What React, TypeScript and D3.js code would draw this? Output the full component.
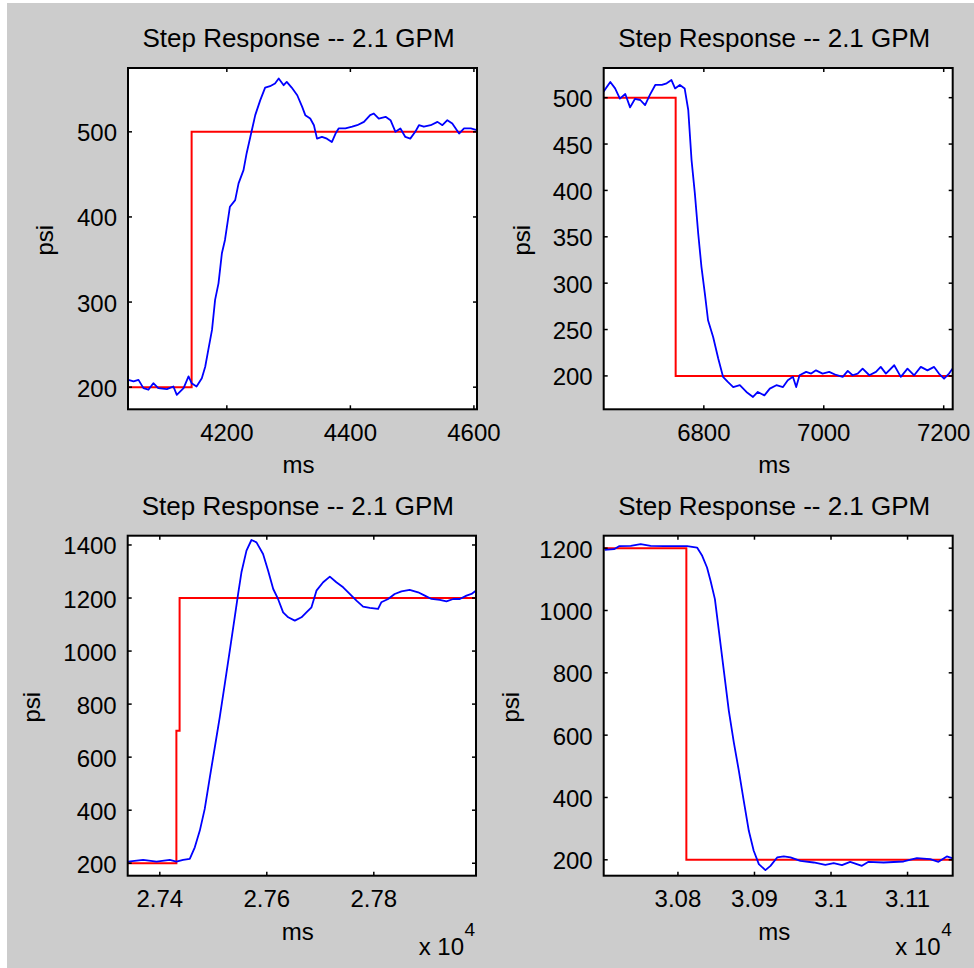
import React from "react";
import * as d3 from "d3";

// ---------- Data ----------
// Panel 1: step 200 -> 500 psi
const p1Time = [4040.5, 4049, 4057, 4065, 4073, 4081, 4089, 4103, 4113.5, 4119, 4130, 4138, 4143, 4151, 4159.5, 4165, 4170, 4176, 4181, 4186.5, 4192, 4197, 4205, 4213.5, 4219, 4227, 4232, 4238, 4246, 4254, 4262, 4270, 4278, 4284, 4292, 4297, 4305, 4314, 4322, 4327, 4335, 4341, 4346, 4354, 4362, 4370, 4376, 4381, 4392, 4403, 4411, 4422, 4432, 4438, 4446, 4457, 4465, 4473, 4481, 4489, 4497, 4505, 4511, 4519, 4530, 4541, 4549, 4557, 4565, 4576, 4584, 4595, 4605];
const p1Psi = [208.6, 206.7, 208.6, 198.9, 197, 204.7, 198.9, 197.7, 200.8, 191, 198.9, 212.6, 204.7, 200.8, 210.6, 224, 243.8, 267.3, 302.5, 322, 357.3, 373, 412, 419.8, 439.4, 455, 474.6, 494, 519.6, 537, 552, 553.6, 556.7, 562.6, 554.8, 558.7, 552, 543, 529.3, 519.6, 515.6, 507.8, 492, 494, 492, 488, 498, 504, 504, 506, 507.8, 511.7, 519.6, 521.5, 515.6, 517.6, 513.7, 500, 504, 494, 492, 500, 507.8, 506, 507.8, 511.7, 507.8, 513.7, 509.8, 498, 504, 504, 502];
const p1StepTime = [4030, 4143, 4143, 4620];
const p1StepPsi = [200, 200, 500, 500];

// Panel 2: step 500 -> 200 psi
const p2Time = [6632.7, 6644, 6652, 6660, 6669, 6677, 6685, 6694, 6702, 6710, 6719, 6730, 6738, 6746, 6752, 6760, 6768, 6774, 6779.5, 6785, 6790.6, 6796, 6801.7, 6807, 6815.5, 6824, 6832, 6840, 6849, 6860, 6871, 6882, 6890, 6901, 6910, 6921, 6932, 6940, 6948.5, 6954, 6959.6, 6970.6, 6979, 6987, 6998, 7009, 7020.5, 7031.6, 7040, 7048, 7056.5, 7064.8, 7076, 7087, 7095, 7103.6, 7117.5, 7128.5, 7139.6, 7150.7, 7161.8, 7172.9, 7184, 7192, 7200.6, 7208.9, 7215];
const p2Psi = [506.5, 517, 510, 499, 504, 489.6, 498.6, 497.5, 492, 503, 513.7, 513.7, 515.5, 519, 510, 513.7, 510, 486.7, 432.7, 396.8, 353.6, 317.6, 288.8, 260, 242, 218.7, 199, 193.5, 188, 190, 182.7, 177.3, 182.7, 179, 186.3, 190, 188, 195.3, 199, 188, 200.7, 204.3, 202.5, 206, 202.5, 204.3, 201, 199, 205.4, 200.7, 202.5, 207.9, 200.7, 204.3, 209.7, 202.5, 211.5, 199, 207.9, 200.7, 209.7, 206, 209.7, 202.5, 197, 202.5, 208];
const p2StepTime = [6620, 6753, 6753, 7230];
const p2StepPsi = [500, 500, 200, 200];

// Panel 3: step 200 -> 1200 psi
const p3Time = [27340.8, 27368.8, 27393.8, 27418.7, 27431, 27443.6, 27456, 27465.4, 27474.8, 27484, 27493.5, 27502.8, 27512, 27521.5, 27530.8, 27540, 27546.4, 27552.6, 27562, 27571.3, 27580.7, 27593, 27602.5, 27612, 27621, 27630.5, 27640, 27652.3, 27664.8, 27674, 27683.5, 27692.8, 27705.3, 27717.8, 27730, 27742.7, 27755, 27767.6, 27780, 27792.5, 27808, 27814, 27826.8, 27839, 27851.7, 27867, 27882.8, 27895.3, 27907.8, 27923.4, 27935.8, 27948.3, 27960.7, 27973.2, 27982.6, 27990.7];
const p3Psi = [206.2, 212.5, 206.2, 212.5, 206.2, 212.5, 216.3, 260, 323, 404.8, 524, 637.3, 750.3, 876, 1001.7, 1127.3, 1215.3, 1297, 1378.6, 1418.8, 1410, 1366, 1303, 1234, 1196.4, 1146, 1127.3, 1114.8, 1127.3, 1146, 1165, 1227.8, 1259.3, 1280.6, 1259.3, 1240.4, 1215.3, 1190, 1167.5, 1162.5, 1158.7, 1183.9, 1196.4, 1215.3, 1225.3, 1230.4, 1221.6, 1209, 1196.4, 1192.7, 1187.6, 1196.4, 1196.4, 1209, 1215.3, 1227.8];
const p3StepTime = [27320, 27431, 27431, 27437, 27437, 28010];
const p3StepPsi = [200, 200, 700, 700, 1200, 1200];

// Panel 4: step 1200 -> 200 psi
const p4Time = [30704.3, 30716.5, 30723, 30738.3, 30751.3, 30764.3, 30781.7, 30799, 30812, 30825, 30831.7, 30838, 30842.6, 30848.3, 30853.5, 30860, 30866.5, 30873, 30879.6, 30886, 30892.6, 30899, 30905.7, 30914.3, 30920.9, 30929.6, 30938.3, 30947, 30960, 30977.4, 30992.6, 31003.5, 31014.3, 31025, 31040.4, 31049, 31068.7, 31094.8, 31112.2, 31129.6, 31140.4, 31151.3, 31159];
const p4Psi = [1194.7, 1196.8, 1206.4, 1207.5, 1212.8, 1207.5, 1206.4, 1206.4, 1206.4, 1202, 1175.4, 1138, 1095.2, 1036.4, 934.8, 806.4, 678, 576.5, 485.6, 389.3, 293, 228.9, 186, 166.8, 180.7, 207.5, 210.7, 207.5, 196.8, 191.4, 183.9, 189.3, 182.8, 193.5, 180.7, 193.5, 191.4, 194.6, 205.3, 202, 193.5, 210.7, 204.3];
const p4StepTime = [30690, 30811, 30811, 31170];
const p4StepPsi = [1200, 1200, 200, 200];

// Axis limits and ticks
const p1XLim = [4040, 4605];
const p1YLim = [174, 575];
const p1XTicks = [4200, 4400, 4600];
const p1YTicks = [200, 300, 400, 500];

const p2XLim = [6633, 7215];
const p2YLim = [164, 532];
const p2XTicks = [6800, 7000, 7200];
const p2YTicks = [200, 250, 300, 350, 400, 450, 500];

const p3XLim = [27340, 27991];
const p3YLim = [153, 1435];
const p3XTicks = [27400, 27600, 27800];
const p3XTickLabels = ["2.74", "2.76", "2.78"];
const p3YTicks = [200, 400, 600, 800, 1000, 1200, 1400];

const p4XLim = [30703, 31159];
const p4YLim = [149, 1240];
const p4XTicks = [30800, 30900, 31000, 31100];
const p4XTickLabels = ["3.08", "3.09", "3.1", "3.11"];
const p4YTicks = [200, 400, 600, 800, 1000, 1200];

const TITLE = "Step Response -- 2.1 GPM";
const X_LABEL = "ms";
const Y_LABEL = "psi";

const FONT = "'Liberation Sans', Arial, Helvetica, sans-serif";

type Box = { l: number; t: number; r: number; b: number };

function Panel(props: {
  id: string;
  box: Box;
  xLim: number[];
  yLim: number[];
  xTicks: number[];
  xTickLabels?: string[];
  yTicks: number[];
  time: number[];
  psi: number[];
  stepTime: number[];
  stepPsi: number[];
  yLabelOffset: number;
  exponent?: boolean;
}) {
  const { id, box, xLim, yLim, xTicks, xTickLabels, yTicks, time, psi, stepTime, stepPsi, yLabelOffset, exponent } = props;
  const x = d3.scaleLinear().domain(xLim).range([box.l, box.r]);
  const y = d3.scaleLinear().domain(yLim).range([box.b, box.t]);
  const line = d3
    .line<[number, number]>()
    .x((d) => x(d[0]))
    .y((d) => y(d[1]));
  const resp = line(time.map((t, i) => [t, psi[i]] as [number, number])) || "";
  const step = line(stepTime.map((t, i) => [t, stepPsi[i]] as [number, number])) || "";
  const cx = (box.l + box.r) / 2 - 4;
  const cy = (box.t + box.b) / 2 + 1.5;
  const tl = 4;
  return (
    <g>
      <defs>
        <clipPath id={id}>
          <rect x={box.l} y={box.t} width={box.r - box.l} height={box.b - box.t} />
        </clipPath>
      </defs>
      <rect x={box.l} y={box.t} width={box.r - box.l} height={box.b - box.t} fill="#ffffff" />
      <g clipPath={`url(#${id})`}>
        <path d={step} fill="none" stroke="#ff0000" strokeWidth={2} />
        <path d={resp} fill="none" stroke="#0000ff" strokeWidth={1.8} strokeLinejoin="round" />
      </g>
      {/* ticks */}
      {xTicks.map((v) => (
        <g key={"xt" + v}>
          <line x1={x(v)} x2={x(v)} y1={box.b} y2={box.b - tl} stroke="#000" strokeWidth={1.5} />
          <line x1={x(v)} x2={x(v)} y1={box.t} y2={box.t + tl} stroke="#000" strokeWidth={1.5} />
        </g>
      ))}
      {yTicks.map((v) => (
        <g key={"yt" + v}>
          <line x1={box.l} x2={box.l + tl} y1={y(v)} y2={y(v)} stroke="#000" strokeWidth={1.5} />
          <line x1={box.r} x2={box.r - tl} y1={y(v)} y2={y(v)} stroke="#000" strokeWidth={1.5} />
        </g>
      ))}
      <rect x={box.l} y={box.t} width={box.r - box.l} height={box.b - box.t} fill="none" stroke="#000" strokeWidth={2} />
      {/* tick labels */}
      {xTicks.map((v, i) => (
        <text key={"xl" + v} x={x(v)} y={box.b + 31.5} textAnchor="middle" fontSize={24} fontFamily={FONT} fill="#000">
          {xTickLabels ? xTickLabels[i] : String(v)}
        </text>
      ))}
      {yTicks.map((v) => (
        <text key={"yl" + v} x={box.l - 11} y={y(v) + 9.5} textAnchor="end" fontSize={24} fontFamily={FONT} fill="#000">
          {String(v)}
        </text>
      ))}
      <text x={cx} y={box.t - 21} textAnchor="middle" fontSize={26} fontFamily={FONT} fill="#000">
        {TITLE}
      </text>
      <text x={cx} y={box.b + 64} textAnchor="middle" fontSize={24} fontFamily={FONT} fill="#000">
        {X_LABEL}
      </text>
      <text
        x={0}
        y={0}
        transform={`translate(${box.l - yLabelOffset},${cy}) rotate(-90)`}
        textAnchor="middle"
        fontSize={24}
        fontFamily={FONT}
        fill="#000"
      >
        {Y_LABEL}
      </text>
      {exponent && (
        <g>
          <text x={box.r - 12} y={box.b + 79} textAnchor="end" fontSize={24} fontFamily={FONT} fill="#000">
            x 10
          </text>
          <text x={box.r - 11.5} y={box.b + 60.5} textAnchor="start" fontSize={19} fontFamily={FONT} fill="#000">
            4
          </text>
        </g>
      )}
    </g>
  );
}

export default function App() {
  const W = 974;
  const H = 968;
  return (
    <div style={{ position: "absolute", left: 0, top: 0, width: W, height: H, background: "#ffffff" }}>
      <svg width={W} height={H} style={{ display: "block" }}>
        <rect x={7} y={3} width={W - 7} height={H - 3} fill="#cccccc" />
        <Panel
          id="c1"
          box={{ l: 128, t: 68, r: 477, b: 409.3 }}
          xLim={p1XLim}
          yLim={p1YLim}
          xTicks={p1XTicks}
          yTicks={p1YTicks}
          time={p1Time}
          psi={p1Psi}
          stepTime={p1StepTime}
          stepPsi={p1StepPsi}
          yLabelOffset={75}
        />
        <Panel
          id="c2"
          box={{ l: 603.7, t: 68, r: 952.7, b: 409.3 }}
          xLim={p2XLim}
          yLim={p2YLim}
          xTicks={p2XTicks}
          yTicks={p2YTicks}
          time={p2Time}
          psi={p2Psi}
          stepTime={p2StepTime}
          stepPsi={p2StepPsi}
          yLabelOffset={74}
        />
        <Panel
          id="c3"
          box={{ l: 127.7, t: 535.7, r: 476, b: 875.7 }}
          xLim={p3XLim}
          yLim={p3YLim}
          xTicks={p3XTicks}
          xTickLabels={p3XTickLabels}
          yTicks={p3YTicks}
          time={p3Time}
          psi={p3Psi}
          stepTime={p3StepTime}
          stepPsi={p3StepPsi}
          yLabelOffset={88}
          exponent
        />
        <Panel
          id="c4"
          box={{ l: 603.7, t: 535.7, r: 952.7, b: 875.7 }}
          xLim={p4XLim}
          yLim={p4YLim}
          xTicks={p4XTicks}
          xTickLabels={p4XTickLabels}
          yTicks={p4YTicks}
          time={p4Time}
          psi={p4Psi}
          stepTime={p4StepTime}
          stepPsi={p4StepPsi}
          yLabelOffset={85}
          exponent
        />
      </svg>
    </div>
  );
}
